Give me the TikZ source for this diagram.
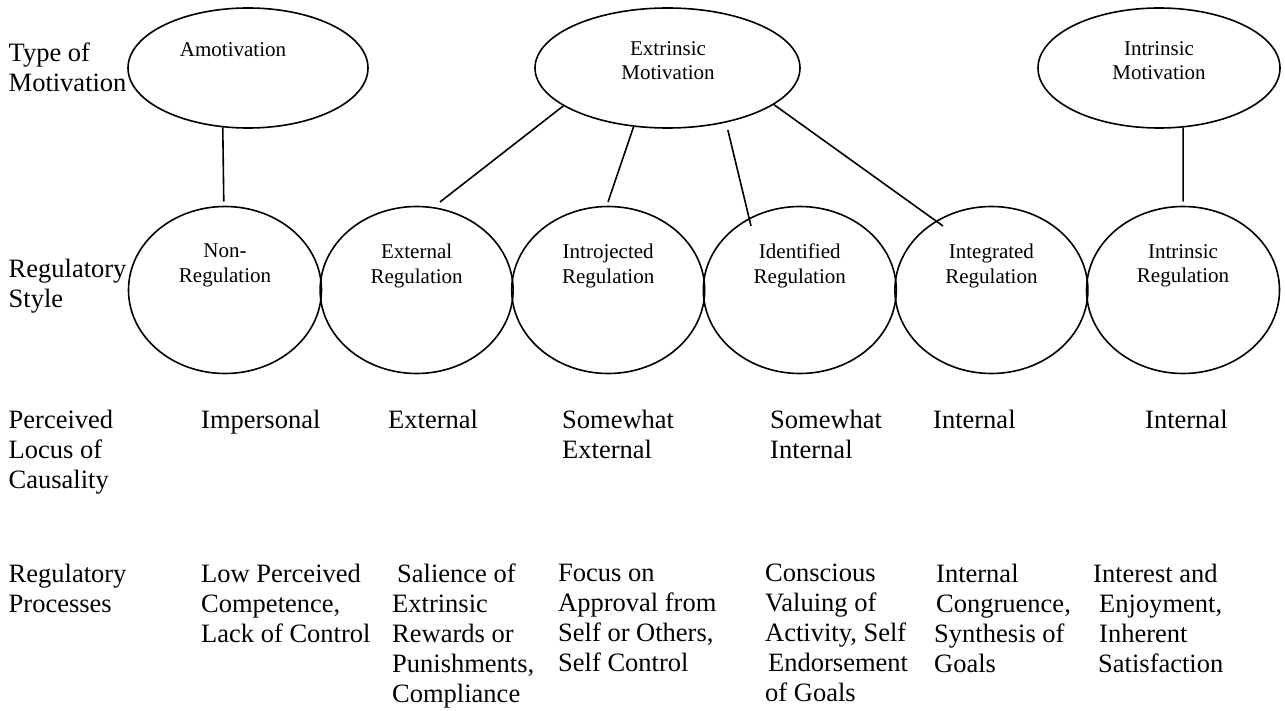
\documentclass[tikz,border=0pt]{standalone}
\usepackage{fontspec}
\setmainfont{Liberation Serif}
\usetikzlibrary{shapes.geometric}
\begin{document}
\begin{tikzpicture}[x=1pt,y=-1pt,
  oval/.style={draw, ellipse, line width=1.6pt, inner sep=0pt},
  regoval/.style={oval, minimum width=193pt, minimum height=167pt},
  conn/.style={line width=1.6pt},
  intext/.style={font=\fontsize{21}{24.5}\selectfont, align=center, inner sep=0pt, anchor=north},
  lbl/.style={font=\fontsize{26.5}{30}\selectfont, align=left, inner sep=0pt, anchor=north west},
]
\useasboundingbox (0,0) rectangle (1285,711);

% top ellipses
\node[oval, minimum width=240pt, minimum height=120pt] (amot) at (248,68) {};
\node[oval, minimum width=265pt, minimum height=120pt] (extr) at (667.5,68) {};
\node[oval, minimum width=242pt, minimum height=120pt] (intr) at (1159,68) {};
\node[intext] (amotT) at (233,42.5) {Amotivation};
\node[intext] (extrT) at (668,41) {Extrinsic\\Motivation};
\node[intext] (intrT) at (1159,41) {Intrinsic\\Motivation};

% regulation ovals
\node[regoval] (nonreg) at (225,290) {};
\node[regoval] (extreg) at (416.6,290) {};
\node[regoval] (introreg) at (608.2,290) {};
\node[regoval] (identreg) at (799.8,290) {};
\node[regoval] (integreg) at (991.4,290) {};
\node[regoval] (intreg) at (1183,290) {};
\node[intext] (nonregT) at (225,244) {Non-\\Regulation};
\node[intext] (extregT) at (416.6,244) {External\\Regulation};
\node[intext] (introregT) at (608.2,244) {Introjected\\Regulation};
\node[intext] (identregT) at (799.8,244) {Identified\\Regulation};
\node[intext] (integregT) at (991.4,244) {Integrated\\Regulation};
\node[intext] (intregT) at (1183,244) {Intrinsic\\Regulation};

% connector end points
\coordinate (p1) at (440,202);
\coordinate (p2) at (608,202);
\coordinate (p3) at (751,226);
\coordinate (p4) at (943,226);

\draw[conn, shorten >=4pt] (amot.247.8) -- (nonreg);
\draw[conn] (extr.200) -- (p1);
\draw[conn] (extr.240) -- (p2);
\draw[conn, shorten <=7.5pt] (extr.317.8) -- (p3);
\draw[conn] (extr.341) -- (p4);
\draw[conn, shorten >=4pt] (intr.292.2) -- (intreg);

% row labels
\node[lbl] (lt) at (8.5,43) {Type of\\Motivation};
\node[lbl] (ls) at (8.5,259) {Regulatory\\Style};
\node[lbl] (lp) at (8.5,410) {Perceived\\Locus of\\Causality};
\node[lbl] (lr) at (8.5,564) {Regulatory\\Processes};

% perceived locus
\node[lbl] (c1) at (201,410) {Impersonal};
\node[lbl] (c2) at (388,410) {External};
\node[lbl] (c3) at (562,410) {Somewhat\\External};
\node[lbl] (c4) at (770,410) {Somewhat\\Internal};
\node[lbl] (c5) at (933,410) {Internal};
\node[lbl] (c6) at (1145,410) {Internal};

% regulatory processes
\node[lbl] (r1) at (201,564) {Low Perceived\\Competence,\\Lack of Control};
\node[lbl] (r2) at (392,564) {\hspace*{5pt}Salience of\\Extrinsic\\Rewards or\\Punishments,\\Compliance};
\node[lbl] (r3) at (558,564) {Focus on\\Approval from\\Self or Others,\\Self Control};
\node[lbl] (r4) at (765,564) {Conscious\\Valuing of\\Activity, Self\\\hspace*{3pt}Endorsement\\of Goals};
\node[lbl] (r5) at (934,564) {\hspace*{2pt}Internal\\\hspace*{2pt}Congruence,\\Synthesis of\\Goals};
\node[lbl] (r6) at (1093,564) {Interest and\\\hspace*{6pt}Enjoyment,\\\hspace*{6pt}Inherent\\\hspace*{5pt}Satisfaction};
\end{tikzpicture}
\end{document}
